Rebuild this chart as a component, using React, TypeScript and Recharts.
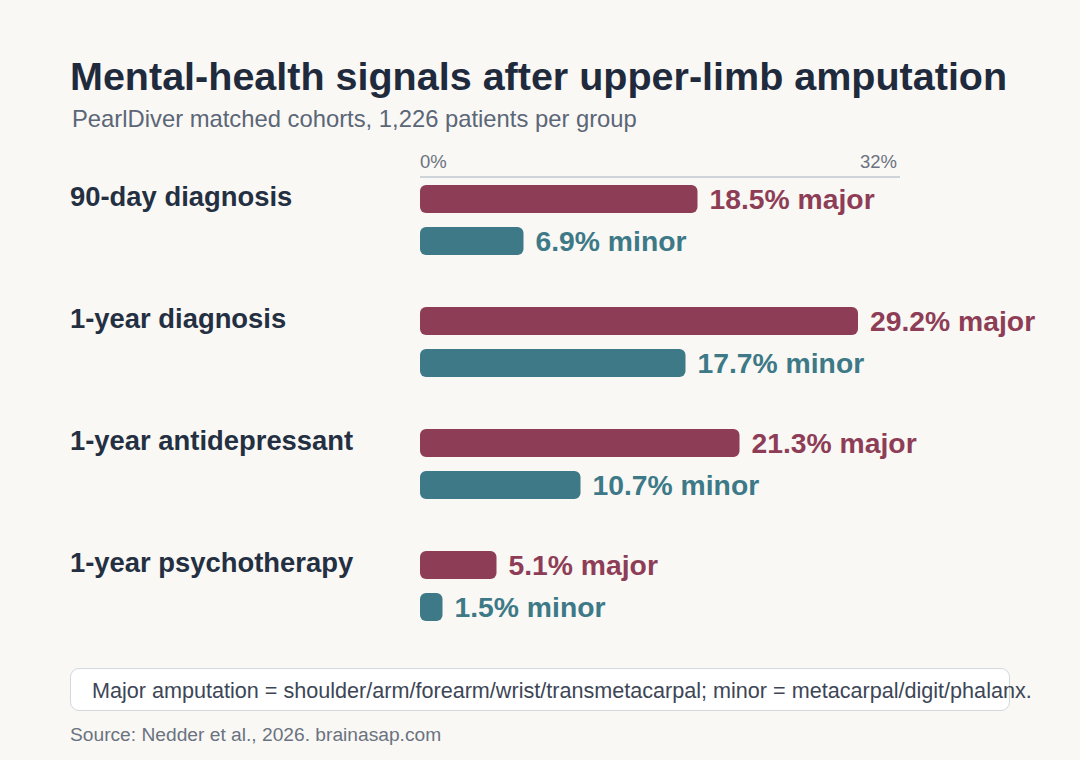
import { BarChart, Bar, XAxis, YAxis, LabelList } from "recharts";

const categories = [
  "90-day diagnosis",
  "1-year diagnosis",
  "1-year antidepressant",
  "1-year psychotherapy",
];
const majorPct = [18.5, 29.2, 21.3, 5.1];
const minorPct = [6.9, 17.7, 10.7, 1.5];
const axisTicks = [0, 32];

const MAJOR = "#8e3d56";
const MINOR = "#3d7986";
const FONT = "'Liberation Sans', Arial, Helvetica, sans-serif";

const data = categories.map((label, i) => ({
  label,
  major: majorPct[i],
  minor: minorPct[i],
}));

function CategoryTick(props: any) {
  const { y, payload } = props;
  return (
    <text
      x={70}
      y={y - 23.5}
      dominantBaseline="central"
      fontFamily={FONT}
      fontSize={27.4}
      fontWeight={700}
      fill="#243042"
    >
      {payload.value}
    </text>
  );
}

function PctTick(props: any) {
  const { x, payload } = props;
  const last = payload.value === axisTicks[axisTicks.length - 1];
  return (
    <text
      x={last ? x - 3 : x}
      y={168}
      textAnchor={last ? "end" : "start"}
      fontFamily={FONT}
      fontSize={18.5}
      fill="#6b7280"
    >
      {payload.value}%
    </text>
  );
}

function valueLabel(kind: string, color: string) {
  return (props: any) => {
    const { x, y, width, height, value } = props;
    return (
      <text
        x={x + width + 12}
        y={y + height / 2}
        dominantBaseline="central"
        fontFamily={FONT}
        fontSize={28.3}
        fontWeight={700}
        fill={color}
      >
        {`${Number(value).toFixed(1)}% ${kind}`}
      </text>
    );
  };
}

export default function App() {
  return (
    <div
      style={{
        position: "absolute",
        left: 0,
        top: 0,
        width: 1080,
        height: 760,
        background: "#f9f8f5",
        fontFamily: FONT,
        overflow: "hidden",
        lineHeight: 1,
      }}
    >
      <div
        style={{
          position: "absolute",
          left: 70,
          top: 56.6,
          fontSize: 39.5,
          fontWeight: 700,
          color: "#1f2b3d",
          whiteSpace: "nowrap",
        }}
      >
        Mental-health signals after upper-limb amputation
      </div>
      <div
        style={{
          position: "absolute",
          left: 72,
          top: 107,
          fontSize: 23.8,
          color: "#5b6677",
          whiteSpace: "nowrap",
        }}
      >
        PearlDiver matched cohorts, 1,226 patients per group
      </div>

      <div style={{ position: "absolute", left: 0, top: 0 }}>
        <BarChart
          width={1080}
          height={760}
          data={data}
          layout="vertical"
          margin={{ top: 147, right: 180, bottom: 113, left: 0 }}
          barGap={14}
        >
          <XAxis
            type="number"
            orientation="top"
            domain={[0, 32]}
            ticks={axisTicks}
            height={30}
            axisLine={{ stroke: "#cfd4da", strokeWidth: 2 }}
            tickLine={false}
            tick={<PctTick />}
          />
          <YAxis
            type="category"
            dataKey="label"
            width={420}
            axisLine={false}
            tickLine={false}
            padding={{ top: -18, bottom: 0 }}
            tick={<CategoryTick />}
          />
          <Bar dataKey="major" fill={MAJOR} barSize={28} radius={6} isAnimationActive={false}>
            <LabelList dataKey="major" content={valueLabel("major", MAJOR)} />
          </Bar>
          <Bar dataKey="minor" fill={MINOR} barSize={28} radius={6} isAnimationActive={false}>
            <LabelList dataKey="minor" content={valueLabel("minor", MINOR)} />
          </Bar>
        </BarChart>
      </div>

      <div
        style={{
          position: "absolute",
          left: 70,
          top: 668,
          width: 940,
          height: 43,
          background: "#ffffff",
          border: "1.5px solid #d3d8de",
          borderRadius: 9,
          boxSizing: "border-box",
        }}
      />
      <div
        style={{
          position: "absolute",
          left: 92,
          top: 680,
          fontSize: 21.6,
          color: "#3c4656",
          whiteSpace: "nowrap",
        }}
      >
        Major amputation = shoulder/arm/forearm/wrist/transmetacarpal; minor = metacarpal/digit/phalanx.
      </div>
      <div
        style={{
          position: "absolute",
          left: 70,
          top: 725,
          fontSize: 19.2,
          color: "#6b7280",
          whiteSpace: "nowrap",
        }}
      >
        Source: Nedder et al., 2026. brainasap.com
      </div>
    </div>
  );
}
